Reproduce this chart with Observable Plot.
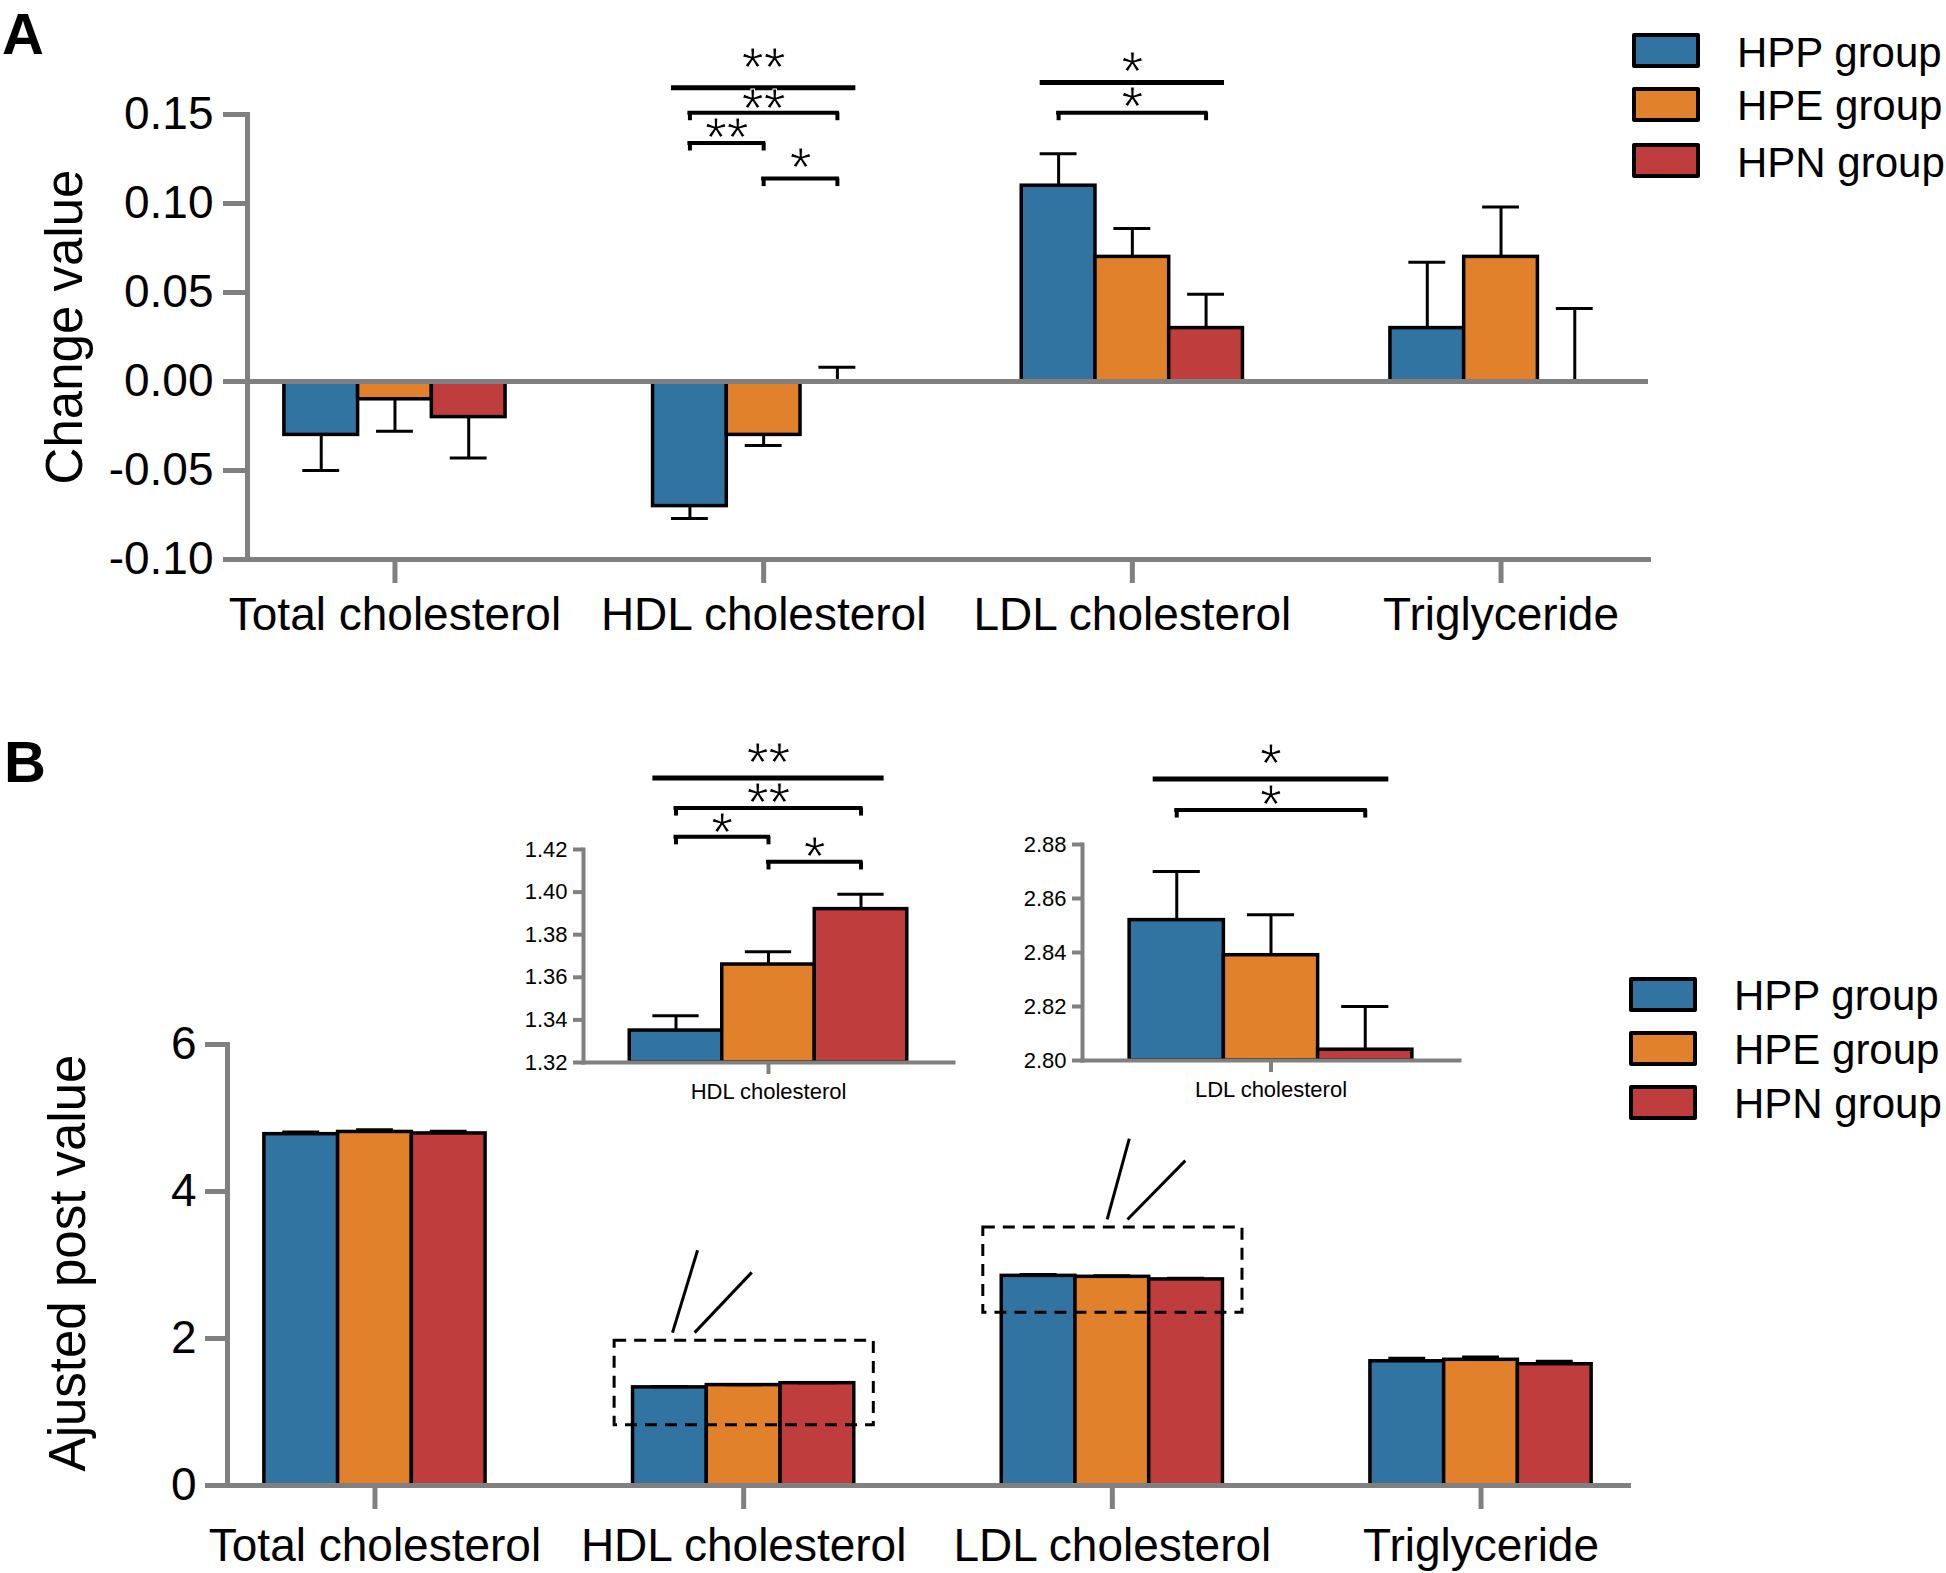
<!DOCTYPE html>
<html>
<head>
<meta charset="utf-8">
<script src="https://cdn.jsdelivr.net/npm/d3@7"></script>
<script src="https://cdn.jsdelivr.net/npm/@observablehq/plot@0.6"></script>
<style>
  html, body { margin: 0; padding: 0; background: #ffffff; }
  #page { position: relative; width: 1946px; height: 1573px; overflow: hidden; background: #fff;
          font-family: "Liberation Sans", Arial, Helvetica, sans-serif; color: #000; }
  .panel-label { position: absolute; font-weight: bold; font-size: 58px; line-height: normal; }
  .lg-box { position: absolute; box-sizing: border-box; border: 4px solid #000; border-radius: 2px; }
  .lg-text { position: absolute; font-size: 42px; white-space: nowrap; }
</style>
</head>
<body>
<div id="page"></div>
<script>
// ---------------- data ----------------
const categories = ["Total cholesterol", "HDL cholesterol", "LDL cholesterol", "Triglyceride"];
const groups = ["HPP group", "HPE group", "HPN group"];
const groupColors = ["#3274a1", "#e1812c", "#c03d3e"];

// Panel A: change values (mean and error)
const changeHPP = [-0.03, -0.07, 0.11, 0.03];
const changeHPE = [-0.01, -0.03, 0.07, 0.07];
const changeHPN = [-0.02, 0.00, 0.03, 0.00];
const changeErrHPP = [0.020, 0.007, 0.018, 0.037];
const changeErrHPE = [0.018, 0.006, 0.016, 0.028];
const changeErrHPN = [0.023, 0.008, 0.019, 0.041];
const changeTicks = [-0.10, -0.05, 0.00, 0.05, 0.10, 0.15];

// Panel B: adjusted post values
const postHPP = [4.78, 1.335, 2.852, 1.69];
const postHPE = [4.81, 1.366, 2.839, 1.71];
const postHPN = [4.79, 1.392, 2.804, 1.65];
const postErrHPP = [0.03, 0.007, 0.018, 0.04];
const postErrHPE = [0.03, 0.006, 0.015, 0.04];
const postErrHPN = [0.03, 0.007, 0.016, 0.04];
const postTicks = [0, 2, 4, 6];

// Insets
const hdlInsetTicks = [1.32, 1.34, 1.36, 1.38, 1.40, 1.42];
const ldlInsetTicks = [2.80, 2.82, 2.84, 2.86, 2.88];

// Significance annotations (levels in data units)
const sigA = [
  {cat: 1, from: 0, to: 2, level: 0.165, labelY: 0.180, label: "**", kind: "line"},
  {cat: 1, from: 0, to: 2, level: 0.151, labelY: 0.157, label: "**", kind: "bracket"},
  {cat: 1, from: 0, to: 1, level: 0.134, labelY: 0.141, label: "**", kind: "bracket"},
  {cat: 1, from: 1, to: 2, level: 0.114, labelY: 0.124, label: "*", kind: "bracket"},
  {cat: 2, from: 0, to: 2, level: 0.168, labelY: 0.178, label: "*", kind: "line"},
  {cat: 2, from: 0, to: 2, level: 0.151, labelY: 0.158, label: "*", kind: "bracket"}
];
const sigHDL = [
  {cat: 1, from: 0, to: 2, level: 1.4536, labelY: 1.4640, label: "**", kind: "line"},
  {cat: 1, from: 0, to: 2, level: 1.4395, labelY: 1.4450, label: "**", kind: "bracket"},
  {cat: 1, from: 0, to: 1, level: 1.4260, labelY: 1.4310, label: "*", kind: "bracket"},
  {cat: 1, from: 1, to: 2, level: 1.4142, labelY: 1.4200, label: "*", kind: "bracket"}
];
const sigLDL = [
  {cat: 2, from: 0, to: 2, level: 2.9043, labelY: 2.9123, label: "*", kind: "line"},
  {cat: 2, from: 0, to: 2, level: 2.8928, labelY: 2.8972, label: "*", kind: "bracket"}
];

// Zoom boxes and connector lines on panel B (offsets relative to category centre)
const zoomBoxes = [
  {cat: 1, dx1: -0.35, dx2: 0.353, y1: 0.82, y2: 1.97},
  {cat: 2, dx1: -0.35, dx2: 0.353, y1: 2.35, y2: 3.51}
];
const zoomLinks = [
  {cat: 1, dx1: -0.193, y1: 2.08, dx2: -0.125, y2: 3.20},
  {cat: 1, dx1: -0.133, y1: 2.08, dx2: 0.022, y2: 2.90},
  {cat: 2, dx1: -0.014, y1: 3.62, dx2: 0.046, y2: 4.72},
  {cat: 2, dx1: 0.041, y1: 3.62, dx2: 0.198, y2: 4.42}
];

// ---------------- helpers ----------------
const FONT = '"Liberation Sans", Arial, Helvetica, sans-serif';
const axisGray = "#808080";
const starSize = 56;
const page = document.getElementById("page");

function buildRows(valueArrays, errArrays, catIndices) {
  const out = [];
  catIndices.forEach(i => groups.forEach((g, j) => {
    out.push({cat: i, j, group: g, value: valueArrays[j][i], err: errArrays[j][i]});
  }));
  return out;
}

function barMarks(rows, center, w, base) {
  return Plot.rect(rows.filter(d => d.value !== base), {
    x1: d => center(d.cat, d.j) - w / 2,
    x2: d => center(d.cat, d.j) + w / 2,
    y1: base, y2: "value",
    fill: "group", stroke: "black", strokeWidth: 3.5
  });
}

function errMarks(rows, center, w, base, sw) {
  const end = d => d.value + (d.value < base ? -1 : 1) * d.err;
  return [
    Plot.ruleX(rows, {x: d => center(d.cat, d.j), y1: "value", y2: end, stroke: "black", strokeWidth: sw}),
    Plot.ruleY(rows, {y: end, x1: d => center(d.cat, d.j) - w / 4, x2: d => center(d.cat, d.j) + w / 4,
                      stroke: "black", strokeWidth: sw})
  ];
}

function sigMarks(sigs, center, ext, depth, fontSize) {
  const x1 = d => center(d.cat, d.from) - (d.kind === "line" ? ext : 0);
  const x2 = d => center(d.cat, d.to) + (d.kind === "line" ? ext : 0);
  const lines = sigs.filter(d => d.kind === "line");
  const brackets = sigs.filter(d => d.kind === "bracket");
  const feet = brackets.flatMap(d => [
    {x: center(d.cat, d.from), y1: d.level, y2: d.level - depth},
    {x: center(d.cat, d.to), y1: d.level, y2: d.level - depth}
  ]);
  return [
    Plot.ruleY(lines, {y: "level", x1, x2, stroke: "black", strokeWidth: 5}),
    Plot.ruleY(brackets, {y: "level", x1, x2, stroke: "black", strokeWidth: 4, strokeLinecap: "square"}),
    Plot.ruleX(feet, {x: "x", y1: "y1", y2: "y2", stroke: "black", strokeWidth: 4}),
    Plot.text(sigs, {x: d => (x1(d) + x2(d)) / 2, y: "labelY", text: "label", fontSize,
                     dy: 0.13 * fontSize, lineAnchor: "middle", textAnchor: "middle",
                     fill: "black", stroke: "white", strokeWidth: 0.9, paintOrder: "normal",
                     fontFamily: FONT})
  ];
}

function place(el, left, top) {
  el.style.position = "absolute";
  el.style.left = left + "px";
  el.style.top = top + "px";
  el.style.maxWidth = "none";
  page.appendChild(el);
}

function addLegend(boxLeft, textLeft, centers) {
  groups.forEach((g, j) => {
    const b = document.createElement("div");
    b.className = "lg-box";
    b.style.left = boxLeft + "px";
    b.style.top = (centers[j] - 17.5) + "px";
    b.style.width = "68px";
    b.style.height = "35px";
    b.style.background = groupColors[j];
    page.appendChild(b);
    const t = document.createElement("div");
    t.className = "lg-text";
    t.style.left = textLeft + "px";
    t.style.top = (centers[j] - 28) + "px";
    t.style.height = "60px";
    t.style.lineHeight = "60px";
    t.textContent = g;
    page.appendChild(t);
  });
}

function addPanelLabel(text, left, top) {
  const d = document.createElement("div");
  d.className = "panel-label";
  d.style.left = left + "px";
  d.style.top = top + "px";
  d.textContent = text;
  page.appendChild(d);
}

const baseStyle = {fontFamily: FONT, fontSize: "46px", color: "black", background: "transparent", overflow: "visible"};
const catIdx = [0, 1, 2, 3];
const barW = 0.2;
const mainCenter = (cat, j) => cat + (j - 1) * barW;
const xDomainMain = [-0.4, 3.4];

// ---------------- Panel A ----------------
const rowsA = buildRows([changeHPP, changeHPE, changeHPN], [changeErrHPP, changeErrHPE, changeErrHPN], catIdx);
const plotA = Plot.plot({
  width: 1946, height: 680,
  marginLeft: 247, marginRight: 298, marginTop: 114, marginBottom: 121,
  x: {domain: xDomainMain},
  y: {domain: [changeTicks[0], changeTicks[changeTicks.length - 1]]},
  color: {domain: groups, range: groupColors},
  style: baseStyle,
  marks: [
    barMarks(rowsA, mainCenter, barW, 0),
    errMarks(rowsA, mainCenter, barW, 0, 3),
    Plot.ruleY([0], {stroke: axisGray, strokeWidth: 5}),
    Plot.frame({anchor: "left", stroke: axisGray, strokeWidth: 5}),
    Plot.frame({anchor: "bottom", stroke: axisGray, strokeWidth: 5}),
    Plot.axisY({ticks: changeTicks, tickFormat: d => d.toFixed(2), tickSize: 24, tickPadding: 10,
                stroke: axisGray, strokeWidth: 5, fill: "black", fontSize: 46, label: null}),
    Plot.axisX({ticks: catIdx, tickFormat: i => categories[i], tickSize: 24, tickPadding: 14,
                stroke: axisGray, strokeWidth: 5, fill: "black", fontSize: 46, label: null}),
    Plot.text(["Change value"], {text: d => d, frameAnchor: "left", rotate: -90, dx: -182, dy: -10,
                                 fontSize: 51, fill: "black", lineAnchor: "middle", textAnchor: "middle"}),
    sigMarks(sigA, mainCenter, barW / 4, 0.0045, starSize)
  ]
});
place(plotA, 0, 0);

// ---------------- Panel B ----------------
const rowsB = buildRows([postHPP, postHPE, postHPN], [postErrHPP, postErrHPE, postErrHPN], catIdx);
const plotB = Plot.plot({
  width: 1946, height: 873,
  marginLeft: 227, marginRight: 318, marginTop: 344, marginBottom: 88,
  x: {domain: xDomainMain},
  y: {domain: [postTicks[0], postTicks[postTicks.length - 1]]},
  color: {domain: groups, range: groupColors},
  style: baseStyle,
  marks: [
    barMarks(rowsB, mainCenter, barW, 0),
    errMarks(rowsB, mainCenter, barW, 0, 3),
    Plot.rect(zoomBoxes, {x1: d => d.cat + d.dx1, x2: d => d.cat + d.dx2, y1: "y1", y2: "y2",
                          fill: "none", stroke: "black", strokeWidth: 3, strokeDasharray: "12,8"}),
    Plot.link(zoomLinks, {x1: d => d.cat + d.dx1, y1: "y1", x2: d => d.cat + d.dx2, y2: "y2",
                          stroke: "black", strokeWidth: 3}),
    Plot.frame({anchor: "left", stroke: axisGray, strokeWidth: 5}),
    Plot.frame({anchor: "bottom", stroke: axisGray, strokeWidth: 5}),
    Plot.axisY({ticks: postTicks, tickFormat: d => String(d), tickSize: 22, tickPadding: 9,
                stroke: axisGray, strokeWidth: 5, fill: "black", fontSize: 46, label: null}),
    Plot.axisX({ticks: catIdx, tickFormat: i => categories[i], tickSize: 24, tickPadding: 19,
                stroke: axisGray, strokeWidth: 5, fill: "black", fontSize: 46, label: null}),
    Plot.text(["Ajusted post value"], {text: d => d, frameAnchor: "left", rotate: -90, dx: -159, dy: -2,
                                       fontSize: 51, fill: "black", lineAnchor: "middle", textAnchor: "middle"})
  ]
});
place(plotB, 0, 700);

// ---------------- Insets ----------------
const insetCenter = (cat, j) => j - 1;
function inset(catIndex, ticks, sigs, frameW, frameH, depth) {
  const rows = buildRows([postHPP, postHPE, postHPN], [postErrHPP, postErrHPE, postErrHPN], [catIndex]);
  const base = ticks[0];
  return Plot.plot({
    width: 90 + frameW + 20, height: 120 + frameH + 50,
    marginLeft: 90, marginRight: 20, marginTop: 120, marginBottom: 50,
    x: {domain: [-2, 2]},
    y: {domain: [ticks[0], ticks[ticks.length - 1]]},
    color: {domain: groups, range: groupColors},
    style: {...baseStyle, fontSize: "22px"},
    marks: [
      barMarks(rows, insetCenter, 1, base),
      errMarks(rows, insetCenter, 1, base, 3),
      Plot.frame({anchor: "left", stroke: axisGray, strokeWidth: 4}),
      Plot.frame({anchor: "bottom", stroke: axisGray, strokeWidth: 4}),
      Plot.axisY({ticks, tickFormat: d => d.toFixed(2), tickSize: 10, tickPadding: 6,
                  stroke: axisGray, strokeWidth: 4, fill: "black", fontSize: 22, label: null}),
      Plot.axisX({ticks: [0], tickFormat: () => categories[catIndex], tickSize: 12, tickPadding: 9,
                  stroke: axisGray, strokeWidth: 4, fill: "black", fontSize: 22, label: null}),
      sigMarks(sigs, insetCenter, 0.25, depth, starSize)
    ]
  });
}
const insetHDL = inset(1, hdlInsetTicks, sigHDL, 370, 213, 0.0038);
place(insetHDL, 583 - 90, 849 - 120);
const insetLDL = inset(2, ldlInsetTicks, sigLDL, 377, 216, 0.003);
place(insetLDL, 1082 - 90, 844 - 120);

// ---------------- Legends & panel labels ----------------
addLegend(1632, 1737, [50.5, 104, 160.5]);
addLegend(1629, 1734, [994, 1048, 1102]);
addPanelLabel("A", 2, 0);
addPanelLabel("B", 4, 728);
</script>
</body>
</html>
